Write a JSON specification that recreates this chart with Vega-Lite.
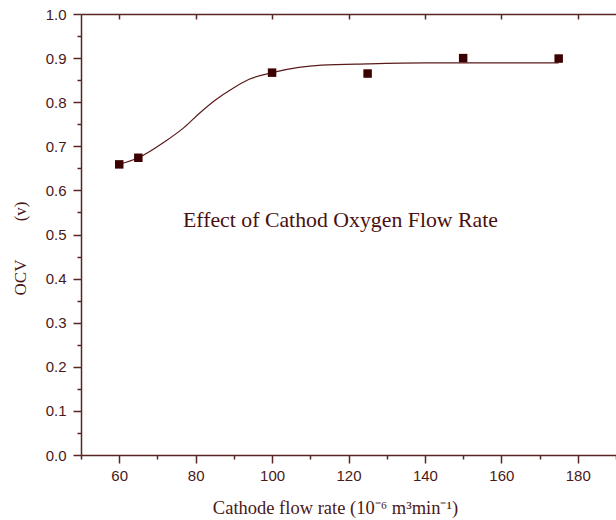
{
  "$schema": "https://vega.github.io/schema/vega-lite/v6.json",
  "width": 535,
  "height": 441,
  "autosize": {"type": "none"},
  "padding": {"left": 81, "top": 14, "right": 0, "bottom": 65},
  "background": "white",
  "config": {
    "view": {"stroke": null},
    "axis": {"domainColor": "#5a2424", "tickColor": "#5a2424", "labelColor": "#4a1818", "titleColor": "#4a1818", "labelFont": "Liberation Sans", "titleFont": "Liberation Serif", "grid": false, "domainWidth": 1.5, "tickWidth": 1.5}
  },
  "datasets": {
    "points": [
      {"flow": 60, "ocv": 0.659},
      {"flow": 65, "ocv": 0.674},
      {"flow": 100, "ocv": 0.867},
      {"flow": 125, "ocv": 0.865},
      {"flow": 150, "ocv": 0.900},
      {"flow": 175, "ocv": 0.899}
    ],
    "curve": [
      {"flow": 60, "ocv": 0.659},
      {"flow": 65, "ocv": 0.674},
      {"flow": 72, "ocv": 0.711},
      {"flow": 77, "ocv": 0.743},
      {"flow": 81, "ocv": 0.775},
      {"flow": 85, "ocv": 0.804},
      {"flow": 90, "ocv": 0.833},
      {"flow": 94, "ocv": 0.852},
      {"flow": 100, "ocv": 0.867},
      {"flow": 107, "ocv": 0.879},
      {"flow": 113, "ocv": 0.884},
      {"flow": 125, "ocv": 0.887},
      {"flow": 140, "ocv": 0.889},
      {"flow": 160, "ocv": 0.889},
      {"flow": 175, "ocv": 0.889}
    ],
    "note": [{"label": "Effect of Cathod Oxygen Flow Rate"}]
  },
  "resolve": {"axis": {"x": "independent", "y": "independent"}},
  "layer": [
    {
      "data": {"name": "curve"},
      "mark": {"type": "line", "interpolate": "monotone", "color": "#5a1a1a", "strokeWidth": 1.2},
      "encoding": {
        "x": {"field": "flow", "type": "quantitative", "scale": {"domain": [50, 190], "nice": false, "zero": false},
          "axis": {"orient": "bottom", "values": [60, 80, 100, 120, 140, 160, 180], "tickSize": 8, "labelFontSize": 15, "labelPadding": 5, "title": "Cathode flow rate (10⁻⁶ m³min⁻¹)", "titleFontSize": 18.5, "titleFontWeight": "normal", "titlePadding": 15, "titleX": 254, "titleAlign": "center"}},
        "y": {"field": "ocv", "type": "quantitative", "scale": {"domain": [0, 1], "nice": false, "zero": false},
          "axis": {"orient": "left", "values": [0, 0.1, 0.2, 0.3, 0.4, 0.5, 0.6, 0.7, 0.8, 0.9, 1.0], "format": ".1f", "tickSize": 8, "labelFontSize": 15, "labelPadding": 7, "title": "OCV\u00a0\u00a0\u00a0\u00a0\u00a0\u00a0\u00a0\u00a0\u00a0(v)", "titleFontSize": 17, "titleFontWeight": "normal", "titleX": -52, "titleY": 234, "titleAngle": -90, "titleAlign": "center", "titleBaseline": "bottom"}}
      }
    },
    {
      "data": {"name": "points"},
      "mark": {"type": "point", "shape": "square", "filled": true, "size": 72, "color": "#3d0000", "opacity": 1},
      "encoding": {
        "x": {"field": "flow", "type": "quantitative",
          "axis": {"orient": "bottom", "values": [50, 70, 90, 110, 130, 150, 170, 190], "tickSize": 4, "labels": false, "domain": false, "title": null}},
        "y": {"field": "ocv", "type": "quantitative",
          "axis": {"orient": "left", "values": [0.05, 0.15, 0.25, 0.35, 0.45, 0.55, 0.65, 0.75, 0.85, 0.95], "tickSize": 4, "labels": false, "domain": false, "title": null}}
      }
    },
    {
      "data": {"name": "note"},
      "mark": {"type": "text", "font": "Liberation Serif", "fontSize": 21.8, "color": "#4a1010", "align": "center", "baseline": "alphabetic"},
      "encoding": {
        "x": {"datum": 117.9, "type": "quantitative",
          "axis": {"orient": "top", "values": [60, 80, 100, 120, 140, 160, 180], "tickSize": -5, "labels": false, "title": null}},
        "y": {"datum": 0.517, "type": "quantitative", "axis": null},
        "text": {"field": "label"}
      }
    }
  ]
}
